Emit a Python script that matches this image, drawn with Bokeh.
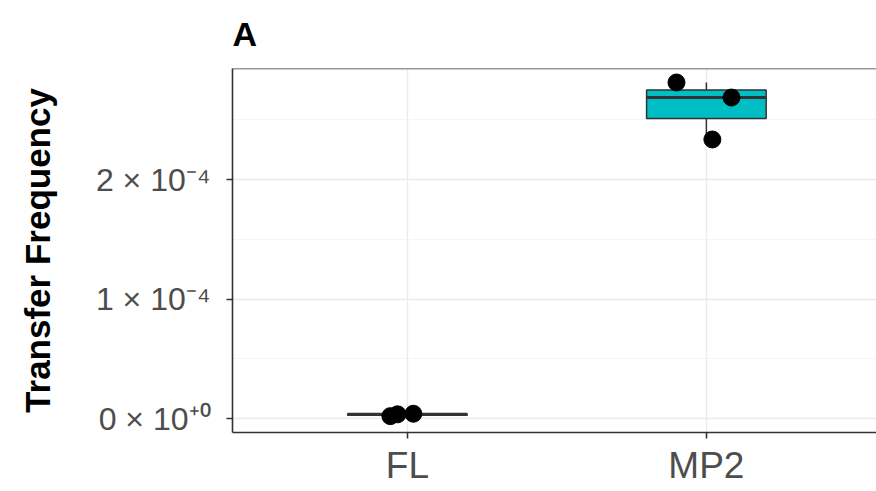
import numpy as np
from bokeh.plotting import figure
from bokeh.models import Range1d, FixedTicker, Span
from bokeh.embed import file_html
from bokeh.resources import INLINE

# ---- data ----
categories = ["FL", "MP2"]
fl_values = [2.0e-6, 3.5e-6, 4.0e-6]
mp2_values = [2.812e-4, 2.686e-4, 2.335e-4]
fl_jitter = [-0.057, -0.033, 0.02]
mp2_jitter = [-0.10, 0.084, 0.02]
y_ticks = [0, 1e-4, 2e-4]
y_tick_labels = ["0 × 10⁺⁰", "1 × 10⁻⁴", "2 × 10⁻⁴"]
y_minor_ticks = [0.5e-4, 1.5e-4, 2.5e-4]
fill_colors = ["#F8766D", "#00BFC4"]
panel_title = "A"

series = [fl_values, mp2_values]
jitters = [fl_jitter, mp2_jitter]

FONT = "Liberation Sans"
DARK = "#333333"
X_START, X_END = 0.415, 2.569
Y_BOTTOM, Y_TOP = -1.17e-5, 2.929e-4

p = figure(width=876, height=491,
           x_range=Range1d(X_START, X_END),
           y_range=Range1d(Y_BOTTOM, Y_TOP),
           output_backend="svg", toolbar_location=None,
           min_border_left=232, min_border_top=68, min_border_right=0,
           min_border_bottom=59, title=panel_title)
p.background_fill_color = "white"
p.border_fill_color = "white"
p.outline_line_color = None

p.title.text_font = FONT
p.title.text_font_size = "34px"
p.title.text_font_style = "bold"
p.title.text_color = "black"
p.title.align = "left"
p.title.vertical_align = "top"
p.title.standoff = 28

# top border of panel
p.add_layout(Span(location=Y_TOP, dimension="width", line_color=DARK, line_width=1.6))

# grids
p.xgrid.ticker = FixedTicker(ticks=[1, 2])
p.xgrid.grid_line_color = "#EBEBEB"
p.xgrid.grid_line_width = 1.3
p.ygrid.ticker = FixedTicker(ticks=y_ticks, minor_ticks=y_minor_ticks)
p.ygrid.grid_line_color = "#EBEBEB"
p.ygrid.grid_line_width = 1.3
p.ygrid.minor_grid_line_color = "#F2F2F2"
p.ygrid.minor_grid_line_width = 0.8

# axes
p.xaxis.ticker = FixedTicker(ticks=[1, 2])
p.xaxis.major_label_overrides = {i + 1: c for i, c in enumerate(categories)}
p.yaxis.ticker = FixedTicker(ticks=y_ticks, minor_ticks=[])
p.yaxis.major_label_overrides = {t: l for t, l in zip(y_ticks, y_tick_labels)}
for ax in (p.xaxis, p.yaxis):
    ax.axis_line_color = DARK
    ax.axis_line_width = 1.6
    ax.major_tick_line_color = DARK
    ax.major_tick_line_width = 1.6
    ax.major_tick_out = 6
    ax.major_tick_in = 0
    ax.minor_tick_line_color = None
    ax.major_label_text_font = FONT
    ax.major_label_text_color = "#4D4D4D"
p.xaxis.major_label_text_font_size = "37px"
p.xaxis.major_label_standoff = 6
p.yaxis.major_label_text_font_size = "32px"
p.yaxis.major_label_standoff = 16
p.yaxis.axis_label = "Transfer Frequency"
p.yaxis.axis_label_text_font = FONT
p.yaxis.axis_label_text_font_size = "35px"
p.yaxis.axis_label_text_font_style = "bold"
p.yaxis.axis_label_text_color = "black"
p.yaxis.axis_label_standoff = 36

# boxplots
box_w = 0.4
for i, vals in enumerate(series):
    x = i + 1
    q1, med, q3 = np.percentile(vals, [25, 50, 75])
    iqr = q3 - q1
    lo = min(v for v in vals if v >= q1 - 1.5 * iqr)
    hi = max(v for v in vals if v <= q3 + 1.5 * iqr)
    p.segment(x0=[x, x], x1=[x, x], y0=[q3, q1], y1=[hi, lo],
              line_color=DARK, line_width=1.5)
    p.vbar(x=[x], width=box_w, bottom=[q1], top=[q3],
           fill_color=fill_colors[i], line_color=DARK, line_width=1.5)
    p.segment(x0=[x - box_w / 2], x1=[x + box_w / 2], y0=[med], y1=[med],
              line_color=DARK, line_width=3)

# points
for i, (vals, jit) in enumerate(zip(series, jitters)):
    xs = [i + 1 + j for j in jit]
    p.scatter(x=xs, y=vals, size=17, color="black")

open("out.html", "w").write(file_html(p, INLINE))
